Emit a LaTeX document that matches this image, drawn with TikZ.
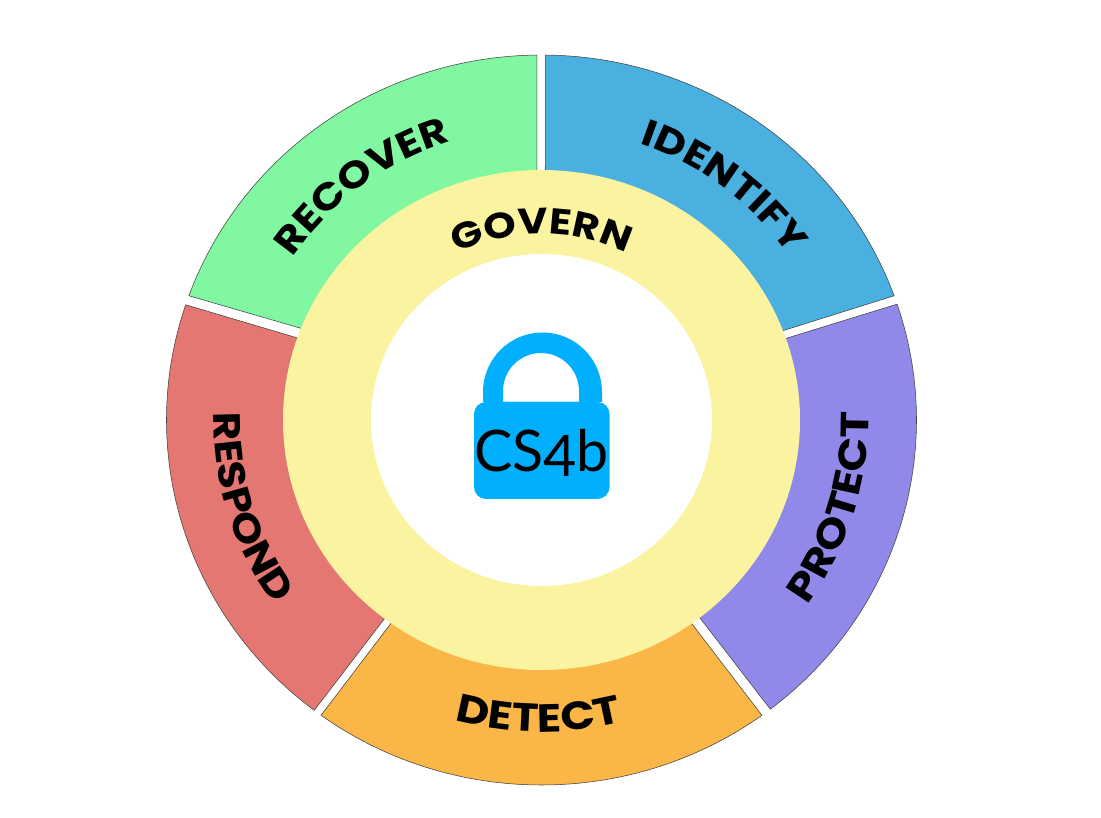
\documentclass[tikz,border=0pt]{standalone}
\usepackage{fontspec}
\usetikzlibrary{decorations.text}
\setmainfont{Poppins}
\newfontfamily\labelfont[FakeStretch=1.15]{Poppins}
\newfontfamily\lockfont{Lato}
\definecolor{cgreen}{HTML}{80F7A0}
\definecolor{cblue}{HTML}{4AB0E0}
\definecolor{cpurple}{HTML}{9189E9}
\definecolor{cred}{HTML}{E57773}
\definecolor{corange}{HTML}{FAB646}
\definecolor{cyellow}{HTML}{FAF3A0}
\definecolor{clock}{HTML}{00B0FF}
\tikzset{
  sector/.style={draw=black!75,line width=.4pt},
  arclabel/.style 2 args={postaction={decorate,decoration={text along path,text align=center,
     text={|\labelfont\fontsize{#1}{#1}\selectfont\bfseries|#2}}}}
}
\begin{document}
\begin{tikzpicture}[x=.75pt,y=.75pt]
\useasboundingbox (0,0) rectangle (1101,818);
\coordinate (c) at (541.5,398);
% sectors
\fill[cblue,sector] (c) ++(89.4:375 and 365) arc[start angle=89.4,end angle=19.9,x radius=375,y radius=365] -- (731,471) -- (545,471) -- cycle;
\fill[cpurple,sector] (c) ++(18.5:375 and 365) arc[start angle=18.5,end angle=-52.4,x radius=375,y radius=365] -- (665.5,244.8) -- (732,463) -- cycle;
\fill[corange,sector] (c) ++(-54:375 and 365) arc[start angle=-54,end angle=-126,x radius=375,y radius=365] -- (424.5,238.8) -- (658.5,237.8) -- cycle;
\fill[cred,sector] (c) ++(-127.3:375 and 365) arc[start angle=-127.3,end angle=-198.4,x radius=375,y radius=365] -- (355,463) -- (418.5,243.8) -- cycle;
\fill[cgreen,sector] (c) ++(160.1:375 and 365) arc[start angle=160.1,end angle=90.7,x radius=375,y radius=365] -- (537,471) -- (355,474) -- cycle;
% rings
\fill[cyellow] (c) ellipse[x radius=258.5,y radius=250];
\fill[white] (c) ellipse[x radius=170.5,y radius=166];
% padlock
\fill[clock,even odd rule] (483,416) -- (483,426) arc[start angle=180,end angle=0,radius=59.5] -- (602,416) -- cycle
   (503,416) -- (503,427) arc[start angle=180,end angle=0,radius=38] -- (579,416) -- cycle;
\fill[clock,rounded corners=12*.75pt] (474,319) rectangle (609.5,416);
\node[inner sep=0pt,text=black] (lock) at (541.5,365) {\lockfont\fontsize{43}{43}\selectfont CS\raisebox{-3.5pt}{4}b};
% labels
\path[arclabel={27}{GOVERN}] (c) ++(125:191 and 186) arc[start angle=125,end angle=55,x radius=191,y radius=186];
\path[arclabel={28}{IDENTIFY}] (c) ++(85:300 and 292) arc[start angle=85,end angle=20,x radius=300,y radius=292];
\path[arclabel={28}{RECOVER}] (c) ++(159.5:300 and 292) arc[start angle=159.5,end angle=94.5,x radius=300,y radius=292];
\path[arclabel={29.5}{PROTECT}] (c) ++(-47:327 and 318) arc[start angle=-47,end angle=13,x radius=327,y radius=318];
\path[arclabel={28.5}{RESPOND}] (c) ++(167:328 and 319) arc[start angle=167,end angle=227,x radius=328,y radius=319];
\path[arclabel={29.5}{DETECT}] (c) ++(-120.5:321 and 312) arc[start angle=-120.5,end angle=-60.5,x radius=321,y radius=312];
\end{tikzpicture}
\end{document}
